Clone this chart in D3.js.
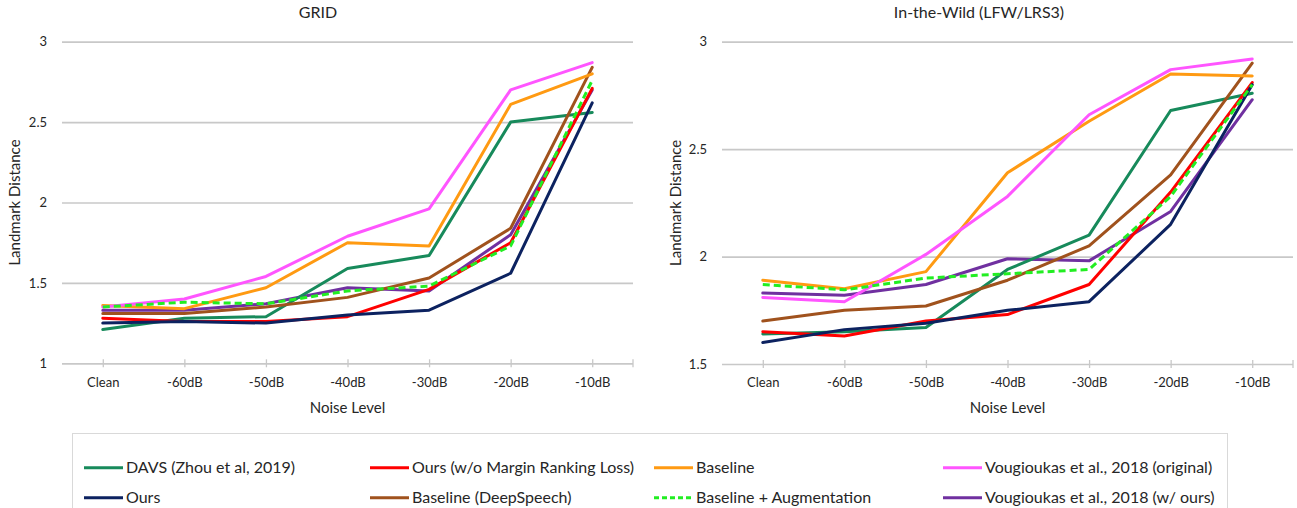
<!DOCTYPE html>
<html>
<head>
<meta charset="utf-8">
<script src="https://cdn.jsdelivr.net/npm/d3@7"></script>
<style>
  html, body { margin: 0; padding: 0; background: #fff; }
  svg { display: block; font-family: Lato, "Open Sans", sans-serif; }
</style>
</head>
<body>
<svg id="chart" width="1297" height="508"></svg>
<script>
// ---------- data ----------
const categories = ["Clean", "-60dB", "-50dB", "-40dB", "-30dB", "-20dB", "-10dB"];

const seriesNames = [
  "DAVS (Zhou et al, 2019)",
  "Ours (w/o Margin Ranking Loss)",
  "Baseline",
  "Vougioukas et al., 2018 (original)",
  "Ours",
  "Baseline (DeepSpeech)",
  "Baseline + Augmentation",
  "Vougioukas et al., 2018 (w/ ours)"
];

// GRID values (same order as seriesNames)
const gridDAVS      = [1.21, 1.28, 1.29, 1.59, 1.67, 2.50, 2.56];
const gridOursNoMRL = [1.28, 1.26, 1.26, 1.29, 1.46, 1.75, 2.71];
const gridBaseline  = [1.36, 1.34, 1.47, 1.75, 1.73, 2.61, 2.80];
const gridVougOrig  = [1.35, 1.40, 1.54, 1.79, 1.96, 2.70, 2.87];
const gridOurs      = [1.25, 1.26, 1.25, 1.30, 1.33, 1.56, 2.62];
const gridDeepSp    = [1.31, 1.31, 1.35, 1.41, 1.53, 1.84, 2.84];
const gridAug       = [1.35, 1.38, 1.37, 1.45, 1.48, 1.73, 2.76];
const gridVougOurs  = [1.33, 1.33, 1.37, 1.47, 1.45, 1.80, 2.70];

// In-the-Wild values
const wildDAVS      = [1.64, 1.65, 1.67, 1.94, 2.10, 2.68, 2.76];
const wildOursNoMRL = [1.65, 1.63, 1.70, 1.73, 1.87, 2.30, 2.81];
const wildBaseline  = [1.89, 1.85, 1.93, 2.39, 2.63, 2.85, 2.84];
const wildVougOrig  = [1.81, 1.79, 2.01, 2.28, 2.66, 2.87, 2.92];
const wildOurs      = [1.60, 1.66, 1.69, 1.75, 1.79, 2.15, 2.80];
const wildDeepSp    = [1.70, 1.75, 1.77, 1.89, 2.05, 2.38, 2.90];
const wildAug       = [1.87, 1.845, 1.90, 1.92, 1.94, 2.28, 2.80];
const wildVougOurs  = [1.83, 1.82, 1.87, 1.99, 1.98, 2.21, 2.73];

const gridTicks = [1, 1.5, 2, 2.5, 3];
const wildTicks = [1.5, 2, 2.5, 3];

const chartTitles = ["GRID", "In-the-Wild (LFW/LRS3)"];
const xAxisTitle = "Noise Level";
const yAxisTitle = "Landmark Distance";

// ---------- styles ----------
const colors = ["#178a5b", "#ff0000", "#ff9a12", "#ff55ff", "#0c2260", "#a0521d", "#22ee22", "#7030a0"];
const dashes = [null, null, null, null, null, null, "7,4", null];
// drawing order (index into series), last on top
const drawOrder = [7, 0, 5, 2, 3, 1, 4, 6];

const svg = d3.select("#chart");
const gridCol = "#c8c8c8";
const textCol = "#262626";

function drawPanel(cfg) {
  const { data, x0, x1, yTop, yBot, domain, ticks, title, titleX, yLabelX, tickLabelX } = cfg;
  const x = d3.scalePoint().domain(categories).range([x0, x1]).padding(0.5);
  const y = d3.scaleLinear().domain(domain).range([yBot, yTop]);
  const g = svg.append("g");

  // horizontal gridlines (include bottom axis line)
  const yAxis = d3.axisLeft(y).tickValues(ticks).tickSize(-(x1 - x0)).tickPadding(x0 - tickLabelX)
    .tickFormat(d3.format("~g"));
  const ya = g.append("g").attr("transform", `translate(${x0},0)`).call(yAxis);
  ya.select(".domain").remove();
  ya.selectAll(".tick line").attr("stroke", gridCol).attr("stroke-width", 1.7);
  ya.selectAll(".tick text").attr("fill", textCol).attr("font-size", 13).attr("font-family", "Lato, sans-serif");

  // x axis with ticks crossing the axis line
  const xAxis = d3.axisBottom(x).tickSizeInner(0).tickSizeOuter(0).tickPadding(14);
  const xa = g.append("g").attr("transform", `translate(0,${yBot})`).call(xAxis);
  xa.select(".domain").remove();
  xa.selectAll(".tick text").attr("fill", textCol).attr("font-size", 13).attr("font-family", "Lato, sans-serif")
    .attr("dy", "0.71em");
  xa.selectAll(".tick").append("line").attr("y1", -4).attr("y2", 4).attr("stroke", gridCol).attr("stroke-width", 1.3);
  g.append("line").attr("x1", x1).attr("x2", x1).attr("y1", yBot - 4).attr("y2", yBot + 4)
    .attr("stroke", gridCol).attr("stroke-width", 1.3);

  // lines
  const line = d3.line().x((d, i) => x(categories[i])).y(d => y(d));
  drawOrder.forEach(si => {
    const p = g.append("path").datum(data[si]).attr("d", line)
      .attr("fill", "none").attr("stroke", colors[si]).attr("stroke-width", 3)
      .attr("stroke-linejoin", "round").attr("stroke-linecap", dashes[si] ? "butt" : "round");
    if (dashes[si]) p.attr("stroke-dasharray", dashes[si]);
  });

  // titles
  g.append("text").attr("x", titleX).attr("y", 18).attr("text-anchor", "middle")
    .attr("font-size", 16).attr("fill", textCol).text(title);
  g.append("text").attr("x", (x0 + x1) / 2).attr("y", 413).attr("text-anchor", "middle")
    .attr("font-size", 15).attr("fill", textCol).text(xAxisTitle);
  g.append("text").attr("transform", `translate(${yLabelX},${(yTop + yBot) / 2}) rotate(-90)`)
    .attr("text-anchor", "middle").attr("dy", "0.35em")
    .attr("font-size", 15).attr("fill", textCol).text(yAxisTitle);
}

drawPanel({
  data: [gridDAVS, gridOursNoMRL, gridBaseline, gridVougOrig, gridOurs, gridDeepSp, gridAug, gridVougOurs],
  x0: 62, x1: 633, yTop: 41.7, yBot: 363.3, domain: [1, 3], ticks: gridTicks,
  title: chartTitles[0], titleX: 318, yLabelX: 15, tickLabelX: 47
});
drawPanel({
  data: [wildDAVS, wildOursNoMRL, wildBaseline, wildVougOrig, wildOurs, wildDeepSp, wildAug, wildVougOurs],
  x0: 722, x1: 1293, yTop: 41.7, yBot: 364, domain: [1.5, 3], ticks: wildTicks,
  title: chartTitles[1], titleX: 979, yLabelX: 676, tickLabelX: 707
});

// ---------- legend ----------
const leg = svg.append("g");
leg.append("rect").attr("x", 72.5).attr("y", 433.5).attr("width", 1155).attr("height", 100)
  .attr("fill", "#fff").attr("stroke", "#d9d9d9").attr("stroke-width", 1);
const colX = [84, 370, 654, 943];
const rowY = [467.7, 497.7];
seriesNames.forEach((name, i) => {
  const cx = colX[i % 4], cy = rowY[Math.floor(i / 4)];
  const l = leg.append("line").attr("x1", cx).attr("x2", cx + 39).attr("y1", cy).attr("y2", cy)
    .attr("stroke", colors[i]).attr("stroke-width", 3);
  if (dashes[i]) l.attr("stroke-dasharray", "5,3");
  leg.append("text").attr("x", cx + 42).attr("y", cy).attr("dy", "0.35em")
    .attr("font-size", 16).attr("fill", textCol).text(name);
});
</script>
</body>
</html>
